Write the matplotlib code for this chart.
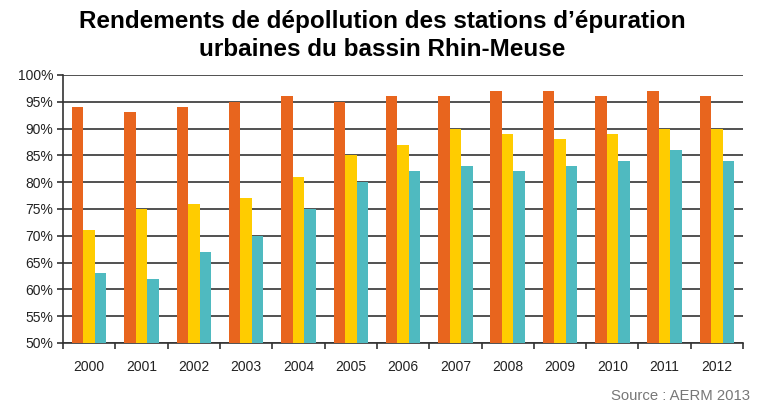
import numpy as np
import matplotlib.pyplot as plt
from matplotlib.ticker import FixedLocator

plt.rcParams['font.family'] = ['Liberation Sans', 'DejaVu Sans']

annees = ['2000', '2001', '2002', '2003', '2004', '2005', '2006',
          '2007', '2008', '2009', '2010', '2011', '2012']
serie_orange = [94, 93, 94, 95, 96, 95, 96, 96, 97, 97, 96, 97, 96]
serie_jaune = [71, 75, 76, 77, 81, 85, 87, 90, 89, 88, 89, 90, 90]
serie_bleue = [63, 62, 67, 70, 75, 80, 82, 83, 82, 83, 84, 86, 84]
graduations = [50, 55, 60, 65, 70, 75, 80, 85, 90, 95, 100]

fig = plt.figure(figsize=(7.65, 4.03), dpi=100)
ax = fig.add_axes([0.0824, 0.149, 0.889, 0.665])

x = np.arange(len(annees))
w = 0.22
ax.bar(x - w, serie_orange, w, color='#E8651E', zorder=3)
ax.bar(x, serie_jaune, w, color='#FFCC00', zorder=3)
ax.bar(x + w, serie_bleue, w, color='#4FBAC0', zorder=3)

ax.set_ylim(50, 100)
ax.set_xlim(-0.5, len(annees) - 0.5)
ax.set_yticks(graduations)
ax.set_yticklabels([f'{g}%' for g in graduations])
ax.set_xticks(x)
ax.set_xticklabels(annees)
ax.xaxis.set_minor_locator(FixedLocator(np.arange(-0.5, len(annees), 1)))
ax.tick_params(axis='x', which='major', length=0, pad=12, labelsize=10, labelcolor='#222222')
ax.tick_params(axis='x', which='minor', length=4, width=1.2, color='#333333')
ax.tick_params(axis='y', length=4, width=1.2, color='#333333', labelsize=10,
               labelcolor='#222222', pad=3)

ax.grid(axis='y', color='#333333', linewidth=1.2, zorder=1)
for s in ['top', 'right']:
    ax.spines[s].set_visible(False)
for s in ['left', 'bottom']:
    ax.spines[s].set_color('#333333')
    ax.spines[s].set_linewidth(1.2)

fig.text(0.5, 0.913, "Rendements de dépollution des stations d’épuration\nurbaines du bassin Rhin-Meuse",
         ha='center', va='center', fontsize=17.5, fontweight='bold', linespacing=1.28)
fig.text(0.981, 0.018, 'Source : AERM 2013', ha='right', va='center',
         fontsize=10.7, color='#777777')

fig.savefig('out.png', dpi=100)
